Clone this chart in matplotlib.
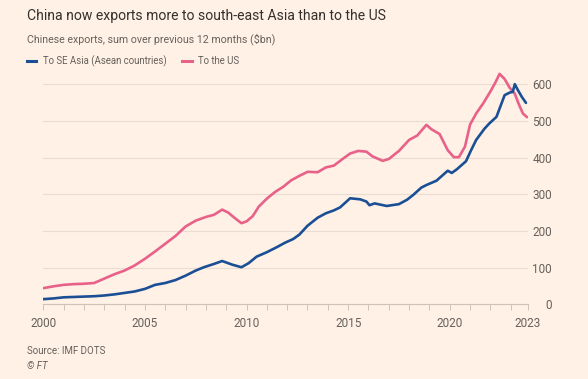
import matplotlib
matplotlib.use("Agg")
import matplotlib.pyplot as plt
from matplotlib.lines import Line2D
import numpy as np

# data ($bn, 12-month rolling sums)
us_years = [2000.0, 2000.5, 2001.0, 2001.5, 2002.0, 2002.5, 2003.0, 2003.5, 2004.0, 2004.5,
            2005.0, 2005.5, 2006.0, 2006.5, 2007.0, 2007.5, 2008.0, 2008.4, 2008.8, 2009.1,
            2009.4, 2009.75, 2010.0, 2010.3, 2010.6, 2011.0, 2011.4, 2011.8, 2012.2, 2012.6,
            2013.0, 2013.5, 2013.9, 2014.3, 2014.7, 2015.1, 2015.5, 2015.9, 2016.2, 2016.7,
            2017.0, 2017.5, 2018.0, 2018.4, 2018.85, 2019.1, 2019.5, 2019.9, 2020.2, 2020.45,
            2020.75, 2021.0, 2021.3, 2021.65, 2022.0, 2022.25, 2022.45, 2022.7, 2022.95, 2023.2,
            2023.4, 2023.6, 2023.8]
us_values = [44, 49, 53, 55, 56, 58, 70, 82, 92, 106,
             124, 144, 165, 186, 212, 228, 238, 244, 258, 250,
             236, 221, 226, 240, 266, 288, 306, 320, 338, 350,
             361, 360, 373, 378, 395, 411, 418, 416, 403, 391,
             396, 418, 448, 460, 489, 477, 464, 420, 401, 401,
             430, 490, 520, 548, 580, 605, 628, 614, 590, 574,
             545, 520, 510]

asean_years = [2000.0, 2000.5, 2001.0, 2001.5, 2002.0, 2002.5, 2003.0, 2003.5, 2004.0, 2004.5,
               2005.0, 2005.5, 2006.0, 2006.5, 2007.0, 2007.5, 2007.9, 2008.4, 2008.8, 2009.3,
               2009.75, 2010.1, 2010.5, 2011.0, 2011.5, 2011.9, 2012.3, 2012.6, 2013.0, 2013.5,
               2013.9, 2014.3, 2014.6, 2015.1, 2015.6, 2015.9, 2016.05, 2016.3, 2016.9, 2017.5,
               2017.9, 2018.2, 2018.6, 2018.85, 2019.35, 2019.9, 2020.1, 2020.35, 2020.8, 2021.05,
               2021.3, 2021.7, 2021.95, 2022.3, 2022.7, 2022.95, 2023.1, 2023.2, 2023.35, 2023.55,
               2023.75]
asean_values = [14, 16, 19, 20, 21, 22, 24, 27, 31, 35,
                42, 53, 58, 66, 78, 92, 101, 110, 118, 108,
                101, 112, 130, 142, 156, 168, 178, 190, 214, 236,
                248, 256, 264, 289, 286, 280, 270, 275, 268, 273,
                285, 298, 318, 325, 337, 364, 358, 368, 390, 420,
                448, 478, 493, 511, 570, 577, 579, 600, 584, 565,
                549]

y_ticks = [0, 100, 200, 300, 400, 500, 600]
x_labels = ["2000", "2005", "2010", "2015", "2020", "2023"]

BG = "#FFF1E5"
BLUE = "#1A4F95"
PINK = "#E86189"
GRID = "#E9DDD2"
TXT = "#33302E"
GREY = "#66605C"

plt.rcParams["font.family"] = ["Roboto", "DejaVu Sans"]

W, H = 588, 379
fig = plt.figure(figsize=(W / 100, H / 100), dpi=100, facecolor=BG)
x_end = 2023.85
ax = fig.add_axes([43.3 / W, (H - 304.3) / H, (528 - 43.3) / W, (304.3 - 65.8) / H])
ax.set_facecolor(BG)

ax.plot(us_years, us_values, color=PINK, lw=1.9, solid_capstyle="round", zorder=3)
ax.plot(asean_years, asean_values, color=BLUE, lw=1.9, solid_capstyle="round", zorder=4)

ax.set_xlim(2000, x_end)
ax.set_ylim(0, 650)

for s in ["top", "left", "right"]:
    ax.spines[s].set_visible(False)
ax.spines["bottom"].set_color("#CEC3B8")
ax.spines["bottom"].set_linewidth(0.8)

ax.yaxis.tick_right()
ax.set_yticks(y_ticks)
ax.set_yticklabels([str(v) for v in y_ticks])
ax.tick_params(axis="y", length=0, pad=17.3, labelsize=8.5, labelcolor=GREY)
for lab in ax.get_yticklabels():
    lab.set_horizontalalignment("right")
ax.yaxis.grid(True, color=GRID, lw=0.8)
ax.set_axisbelow(True)

ax.set_xticks([2000, 2005, 2010, 2015, 2020, x_end])
ax.set_xticklabels(x_labels)
ax.set_xticks(np.arange(2001, 2024), minor=True)
ax.tick_params(axis="x", which="both", length=4, width=0.7, color="#CEC3B8",
               pad=5, labelsize=8.5, labelcolor=GREY)

# title block
fig.text(27 / W, 1 - 16 / H, "China now exports more to south-east Asia than to the US",
         fontsize=10.1, color=TXT, va="center", ha="left")
fig.text(27 / W, 1 - 39 / H, "Chinese exports, sum over previous 12 months ($bn)",
         fontsize=7.7, color=GREY, va="center", ha="left")

# legend
ly = 1 - 61 / H
fig.add_artist(Line2D([27 / W, 36 / W], [ly, ly], color=BLUE, lw=2.2, transform=fig.transFigure))
fig.text(43 / W, ly, "To SE Asia (Asean countries)", fontsize=6.9, color=GREY, va="center", ha="left")
fig.add_artist(Line2D([182 / W, 192 / W], [ly, ly], color=PINK, lw=2.2, transform=fig.transFigure))
fig.text(198 / W, ly, "To the US", fontsize=6.9, color=GREY, va="center", ha="left")

# footer
fig.text(27 / W, 1 - 351 / H, "Source: IMF DOTS", fontsize=7.0, color=GREY, va="center", ha="left")
fig.text(27 / W, 1 - 366 / H, "© FT", fontsize=7.0, color=GREY, va="center", ha="left", style="italic")

fig.savefig("out.png", dpi=100, facecolor=BG)
